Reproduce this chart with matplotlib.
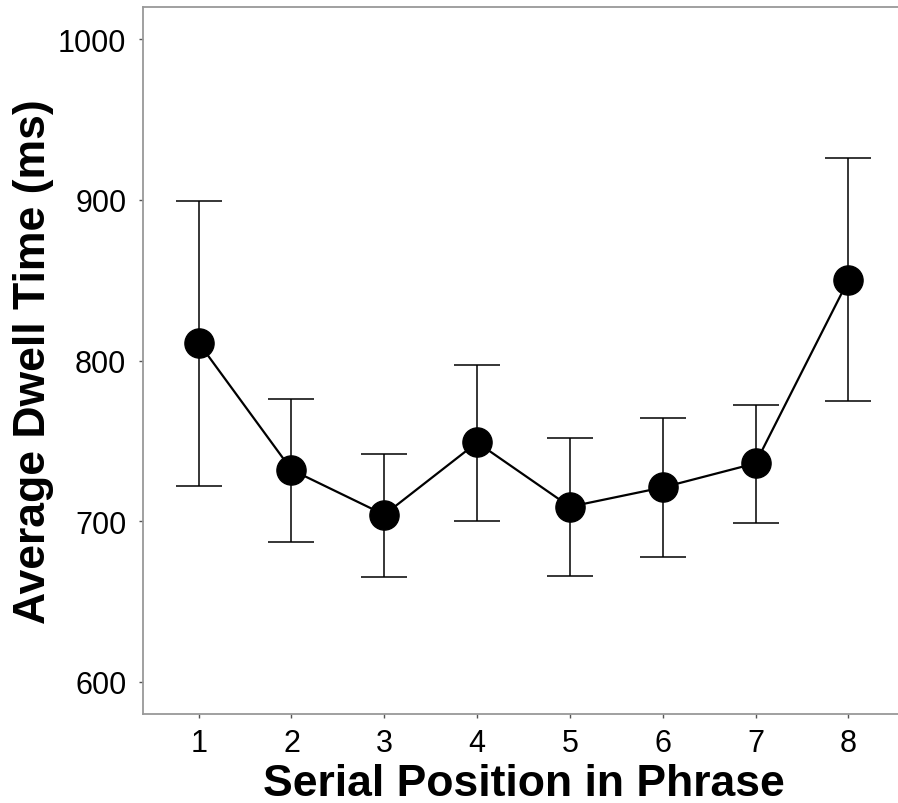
import matplotlib.pyplot as plt

positions = [1, 2, 3, 4, 5, 6, 7, 8]
dwell = [811, 732, 704, 749, 709, 721, 736, 850]
err_hi = [899, 776, 742, 797, 752, 764, 772, 926]
err_lo = [722, 687, 665, 700, 666, 678, 699, 775]

plt.rcParams['font.family'] = ['Liberation Sans', 'DejaVu Sans']

fig = plt.figure(figsize=(8.98, 8.04), dpi=100)
ax = fig.add_axes([143/898, 1 - 715/804, (904 - 143)/898, (715 - 8)/804])

yerr = [[d - l for d, l in zip(dwell, err_lo)], [h - d for d, h in zip(dwell, err_hi)]]
ax.errorbar(positions, dwell, yerr=yerr, fmt='none', ecolor='black', elinewidth=1.1,
            capsize=16.5, capthick=1.1)
ax.plot(positions, dwell, color='black', lw=1.6, marker='o', markersize=21)

ax.set_xlim(0.4, 8.6)
ax.set_ylim(580, 1020)
ax.set_xticks(positions)
ax.set_yticks([600, 700, 800, 900, 1000])

for s in ['left', 'bottom', 'top']:
    ax.spines[s].set_color('#999999')
    ax.spines[s].set_linewidth(1.3)
ax.spines['right'].set_visible(False)
ax.tick_params(axis='both', length=3, width=1, color='#555555', labelsize=22)
ax.tick_params(axis='y', pad=9)
ax.tick_params(axis='x', pad=7)

ax.set_xlabel('Serial Position in Phrase', fontsize=32, fontweight='bold', labelpad=4)
ax.set_ylabel('Average Dwell Time (ms)', fontsize=32, fontweight='bold', labelpad=3)

fig.savefig('out.png', dpi=100)
